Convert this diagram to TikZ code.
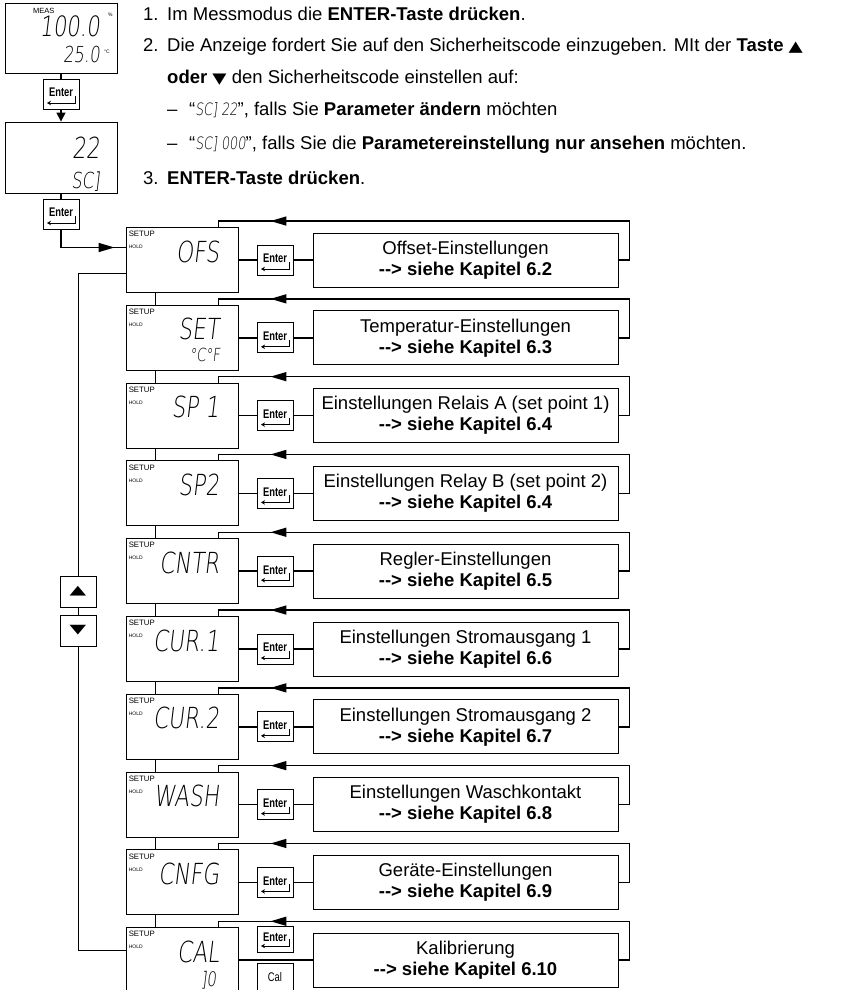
\documentclass[tikz,border=0pt]{standalone}
\usepackage{fontspec}
\setmainfont{Liberation Sans}
\newfontfamily\segfont{DejaVuSans-ExtraLight.ttf}[FakeSlant=0.12,FakeStretch=0.75]
\newfontfamily\keyfont{Liberation Sans}[FakeStretch=0.75]
\newfontfamily\symfont{DejaVu Sans}
\usetikzlibrary{arrows.meta,calc,decorations.markings}
\newcommand{\fsz}[2]{\fontsize{#1}{#2}\selectfont}
\newcommand{\segtxt}[2]{{\segfont\fsz{#1}{#1}#2}}
\newcommand{\trisym}[2][1]{{\symfont\scalebox{#1}[0.8]{#2}}}

\tikzset{
  dispbox/.style={draw, line width=0.9pt, minimum width=112pt, minimum height=65pt},
  keybox/.style={draw, line width=0.9pt, fill=white, minimum width=36pt, minimum height=30pt, inner sep=0pt},
  enterkey/.style={keybox, font=\keyfont\bfseries\fsz{12.5}{13},
    path picture={\draw[line width=1pt, -{Stealth[length=4pt,width=4.5pt]}]
      ([shift={(-3.5pt,13pt)}]path picture bounding box.south east)
      |- ([shift={(4pt,6pt)}]path picture bounding box.south west);}},
  infobox/.style={draw, line width=0.9pt, minimum width=305pt, minimum height=54pt,
    inner sep=0pt, align=center, font=\fsz{18.5}{21}},
  tag/.style={anchor=west, inner sep=0pt},
  segment/.style={anchor=base east, inner sep=0pt},
  textline/.style={anchor=base west, inner sep=0pt, font=\fsz{18.5}{21}},
  flow/.style={line width=1.5pt},
  link/.style={line width=0.9pt},
  midarrow/.style={postaction={decorate}, decoration={markings,
    mark=at position #1 with {\arrow{Triangle[length=16pt,width=9pt]}}}}
}

\begin{document}
\begin{tikzpicture}[x=1pt,y=-1pt]
\useasboundingbox (0,0) rectangle (857,990);

% measuring mode and security code
\node[dispbox, minimum height=70pt] (meas) at (61,38) {};
\node[tag, font=\fsz{7.5}{8}] (meastag) at (33,11) {MEAS};
\node[segment] (measval) at (100,37) {\segtxt{28}{100.0}};
\node[tag, font=\fsz{5}{5}] (pct) at (108,15) {\%};
\node[segment] (tempval) at (100,63) {\segtxt{22}{25.0}};
\node[tag, font=\fsz{5}{5}] (degc) at (104,52) {°C};
\node[enterkey] (enterA) at (61,94) {\raisebox{3pt}{Enter}};
\node[dispbox, minimum height=71pt] (code) at (61,157.5) {};
\node[segment] (codeval) at (100,158) {\segtxt{29}{22}};
\node[segment] (codetag) at (100,188) {\segtxt{22}{SC]}};
\node[enterkey] (enterB) at (61,214) {\raisebox{3pt}{Enter}};

\draw[flow] (meas) -- (enterA);
\draw[flow, -{Triangle[length=9pt,width=9pt]}] (enterA) -- (code);
\draw[flow] (code) -- (enterB);

% instructions
\node[textline] (item1) at (143,21) {\makebox[24pt][l]{1.}Im Messmodus die \textbf{ENTER-Taste drücken}.};
\node[textline] (item2) at (143,52) {\makebox[24pt][l]{2.}Die Anzeige fordert Sie auf den Sicherheitscode einzugeben. MIt der \textbf{Taste} \trisym{▲}};
\node[textline] (item2b) at (167,83) {\textbf{oder} \trisym{▼} den Sicherheitscode einstellen auf:};
\node[textline] (opt22) at (167,115) {\makebox[22pt][l]{–}“\segtxt{17}{SC] 22}”, falls Sie \textbf{Parameter ändern} möchten};
\node[textline] (opt000) at (167,149) {\makebox[22pt][l]{–}“\segtxt{17}{SC] 000}”, falls Sie die \textbf{Parametereinstellung nur ansehen} möchten.};
\node[textline] (item3) at (143,184) {\makebox[24pt][l]{3.}\textbf{ENTER-Taste drücken}.};

% setup menu
\foreach \i/\lcd/\desc/\kap in {0/OFS/Offset-Einstellungen/6.2,
    1/SET/Temperatur-Einstellungen/6.3,
    2/SP 1/Einstellungen Relais A (set point 1)/6.4,
    3/SP2/Einstellungen Relay B (set point 2)/6.4,
    4/CNTR/Regler-Einstellungen/6.5,
    5/CUR.1/Einstellungen Stromausgang 1/6.6,
    6/CUR.2/Einstellungen Stromausgang 2/6.7,
    7/WASH/Einstellungen Waschkontakt/6.8,
    8/CNFG/Geräte-Einstellungen/6.9,
    9/CAL/Kalibrierung/6.10}{
  \pgfmathsetmacro\rowy{260+77.8*\i}
  \node[dispbox] (disp\i) at (182,\rowy) {};
  \node[tag, font=\fsz{7.8}{8}] (setup\i) at ([shift={(3pt,-7pt)}]disp\i.north west) {SETUP};
  \node[tag, font=\fsz{5}{5}] (hold\i) at ([shift={(3pt,-20pt)}]disp\i.north west) {HOLD};
  \node[segment] (lcd\i) at ([shift={(-19pt,-35pt)}]disp\i.north east) {\segtxt{29}{\lcd}};
  \node[infobox] (info\i) at (465.5,\rowy) {\desc\\\textbf{-{}-> siehe Kapitel \kap}};
  \coordinate (in\i) at ([xshift=-20pt]disp\i.north east);
  \draw[flow, midarrow=-58pt] (info\i.east) -- ++(11,0) |- ([yshift=6pt]in\i) -- (in\i);
  \ifnum\i<9
    \node[enterkey] (key\i) at (275,\rowy) {\raisebox{3pt}{Enter}};
    \draw[flow] (disp\i) -- (key\i) -- (info\i);
  \fi
}
\foreach \i [evaluate=\i as \j using int(\i+1)] in {0,...,8}
  \draw[link] ([xshift=-27pt]disp\i.south) -- ([xshift=-27pt]disp\j.north);

% second display lines
\node[segment] (lcdunit) at ([shift={(-18pt,-57pt)}]disp1.north east) {\segtxt{18}{°C°F}};
\node[segment] (lcddo) at ([shift={(-22pt,-59pt)}]disp9.north east) {\segtxt{20}{]0}};

% calibration keys
\node[enterkey, minimum height=26pt] (key9) at (275,939) {\raisebox{3pt}{Enter}};
\node[keybox, minimum height=27pt, font=\keyfont\fsz{12.5}{13}] (calkey) at (275,977) {Cal};
\draw[flow] (disp9) -- (info9);

% entry and scroll keys
\draw[flow, midarrow=-11pt] (enterB) |- ([yshift=12.5pt]disp0.west);
\node[keybox, minimum height=31pt, font=\fsz{16}{16}] (upkey) at (78,591.5) {\trisym[1.35]{▲}};
\node[keybox, minimum height=31pt, font=\fsz{16}{16}] (downkey) at (78,630.5) {\trisym[1.35]{▼}};
\draw[link] ([yshift=-13.5pt]disp0.west) -| (upkey) -- (downkey) |- ([yshift=10pt]disp9.west);
\end{tikzpicture}
\end{document}
